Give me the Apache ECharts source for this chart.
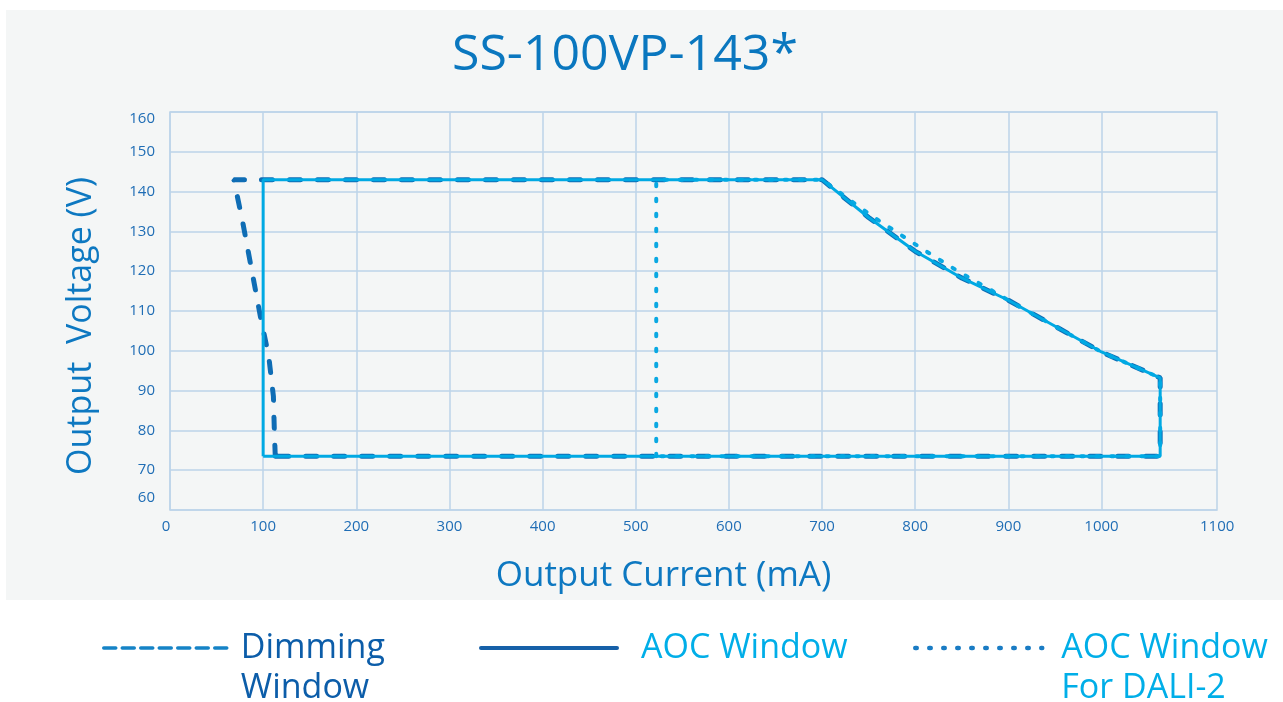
<!DOCTYPE html>
<html>
<head>
<meta charset="utf-8">
<title>SS-100VP-143*</title>
<script src="https://cdn.jsdelivr.net/npm/echarts@6/dist/echarts.min.js"></script>
<style>
    html, body { margin: 0; padding: 0; background: #fff; }
    #panel { position: absolute; left: 6px; top: 10px; width: 1277px; height: 590px; background: #f4f6f6; }
    #chart { position: absolute; left: 0; top: 0; width: 1283px; height: 702px; }
</style>
</head>
<body>
<div id="panel"></div>
<div id="chart"></div>
<script>
    // 刻度
    var xTicks = [0, 100, 200, 300, 400, 500, 600, 700, 800, 900, 1000];
    var xLabels = [0, 100, 200, 300, 400, 500, 600, 700, 800, 900, 1000, 1100];

    // Dimming Window (虚线)
    var dimX = [113, 112, 111, 106, 97, 77.5, 68.5, 700, 750, 800, 850, 900, 1000, 1063, 1063, 113];
    var dimY = [73.5, 80, 88.6, 98.6, 108.7, 133, 143, 143, 133.5, 125, 118.3, 112.7, 99.7, 93.2, 73.5, 73.5];

    // AOC Window (实线)
    var aocX = [100, 100, 700, 750, 800, 850, 900, 1000, 1063, 1063, 100];
    var aocY = [73.5, 143, 143, 133.5, 125, 118.3, 112.7, 99.7, 93.2, 73.5, 73.5];

    // AOC Window For DALI-2 (点线)
    var daliX = [522, 522, 700, 754, 809, 850, 879, 908, 1000, 1063, 1063, 522];
    var daliY = [73.5, 143, 143, 133.8, 125.4, 119.4, 115.6, 111.6, 99.7, 93.2, 73.5, 73.5];

    var pairs = function (xs, ys) {
        var out = [];
        for (var i = 0; i < xs.length; i++) {
            out.push([xs[i], ys[i]]);
        }
        return out;
    };

    var font = '"Open Sans", "Noto Sans", sans-serif';
    var gridColor = '#bcd3e8';
    var tickColor = '#1f6db5';

    var myChart = echarts.init(document.getElementById('chart'));
    var option = {
        animation: false,
        title: {
            text: 'SS-100VP-143*',
            left: 452,
            top: 31,
            padding: 0,
            textStyle: { fontSize: 50, fontWeight: 'normal', color: '#0a77bf', fontFamily: font }
        },
        grid: {
            left: 170, top: 112, width: 1047, height: 398,
            show: true, borderColor: gridColor, borderWidth: 1.5, backgroundColor: 'transparent'
        },
        xAxis: {
            type: 'value',
            min: 0,
            max: 1124,
            name: 'Output Current (mA)',
            nameLocation: 'middle',
            nameGap: 49,
            nameTextStyle: { fontSize: 35, color: '#0d78c1', fontFamily: font, padding: [0, 60, 0, 0] },
            axisLine: { show: false },
            axisTick: { show: false, customValues: xTicks },
            splitLine: { lineStyle: { color: gridColor, width: 1.5 } },
            axisLabel: {
                customValues: xLabels,
                margin: 9,
                fontSize: 15,
                color: tickColor,
                fontFamily: font,
                formatter: function (v) {
                    if (v === 0) return '{l|0}';
                    if (v === 1100) return '{r|1100}';
                    return v;
                },
                rich: {
                    l: { fontSize: 15, color: tickColor, fontFamily: font, padding: [0, 8, 0, 0] },
                    r: { fontSize: 15, color: tickColor, fontFamily: font, padding: [0, 0, 0, 45] }
                }
            }
        },
        yAxis: {
            type: 'value',
            min: 60,
            max: 160,
            interval: 10,
            name: 'Output  Voltage (V)',
            nameLocation: 'middle',
            nameGap: 72,
            nameTextStyle: { fontSize: 34, color: '#0d78c1', fontFamily: font, padding: [0, 30, 0, 0] },
            axisLine: { show: false },
            axisTick: { show: false },
            splitLine: { lineStyle: { color: gridColor, width: 1.5 } },
            axisLabel: {
                margin: 15,
                fontSize: 15,
                color: tickColor,
                fontFamily: font,
                formatter: function (v) {
                    if (v === 60) return '{lo|60}';
                    if (v === 160) return '{hi|160}';
                    return v;
                },
                rich: {
                    lo: { fontSize: 15, color: tickColor, fontFamily: font, padding: [0, 0, 24, 0] },
                    hi: { fontSize: 15, color: tickColor, fontFamily: font, padding: [14, 0, 0, 0] }
                }
            }
        },
        legend: [
            {
                data: ['Dimming Window'],
                left: 102, top: 588, padding: 0,
                itemWidth: 123, itemHeight: 14,
                selectedMode: false,
                formatter: ' \nDimming\nWindow',
                itemStyle: { opacity: 0 },
                textStyle: { fontSize: 34, lineHeight: 40, color: '#0c5da9', fontFamily: font, padding: [0, 0, 0, 9] },
                lineStyle: { color: '#1583c6', width: 3.5, type: [12, 6.5], cap: 'round' }
            },
            {
                data: ['AOC Window'],
                left: 479, top: 628, padding: 0,
                itemWidth: 136, itemHeight: 14,
                selectedMode: false,
                itemStyle: { opacity: 0 },
                textStyle: { fontSize: 34, lineHeight: 40, color: '#00aee8', fontFamily: font, padding: [0, 0, 0, 19] },
                lineStyle: { color: '#1660a8', width: 4, type: 'solid', cap: 'round' }
            },
            {
                data: ['AOC Window For DALI-2'],
                left: 913, top: 588, padding: 0,
                itemWidth: 127, itemHeight: 14,
                selectedMode: false,
                formatter: ' \nAOC Window\nFor DALI-2',
                itemStyle: { opacity: 0 },
                textStyle: { fontSize: 34, lineHeight: 40, color: '#00aee8', fontFamily: font, padding: [0, 0, 0, 14] },
                lineStyle: { color: '#1a7cc4', width: 4.5, type: [1.5, 12.5], cap: 'round' }
            }
        ],
        series: [
            {
                name: 'Dimming Window',
                type: 'line',
                symbol: 'none',
                data: pairs(dimX, dimY),
                itemStyle: { color: '#0f6db5' },
                lineStyle: { color: '#0f6db5', width: 5, type: [11, 17], cap: 'round' }
            },
            {
                name: 'AOC Window For DALI-2',
                type: 'line',
                symbol: 'none',
                data: pairs(daliX, daliY),
                itemStyle: { color: '#0aa8e2' },
                lineStyle: { color: '#0aa8e2', width: 4, type: [2.5, 12.5], cap: 'round' }
            },
            {
                name: 'AOC Window',
                type: 'line',
                symbol: 'none',
                data: pairs(aocX, aocY),
                itemStyle: { color: '#00a9e3' },
                lineStyle: { color: '#00a9e3', width: 3 }
            }
        ]
    };
    myChart.setOption(option);
</script>
</body>
</html>
